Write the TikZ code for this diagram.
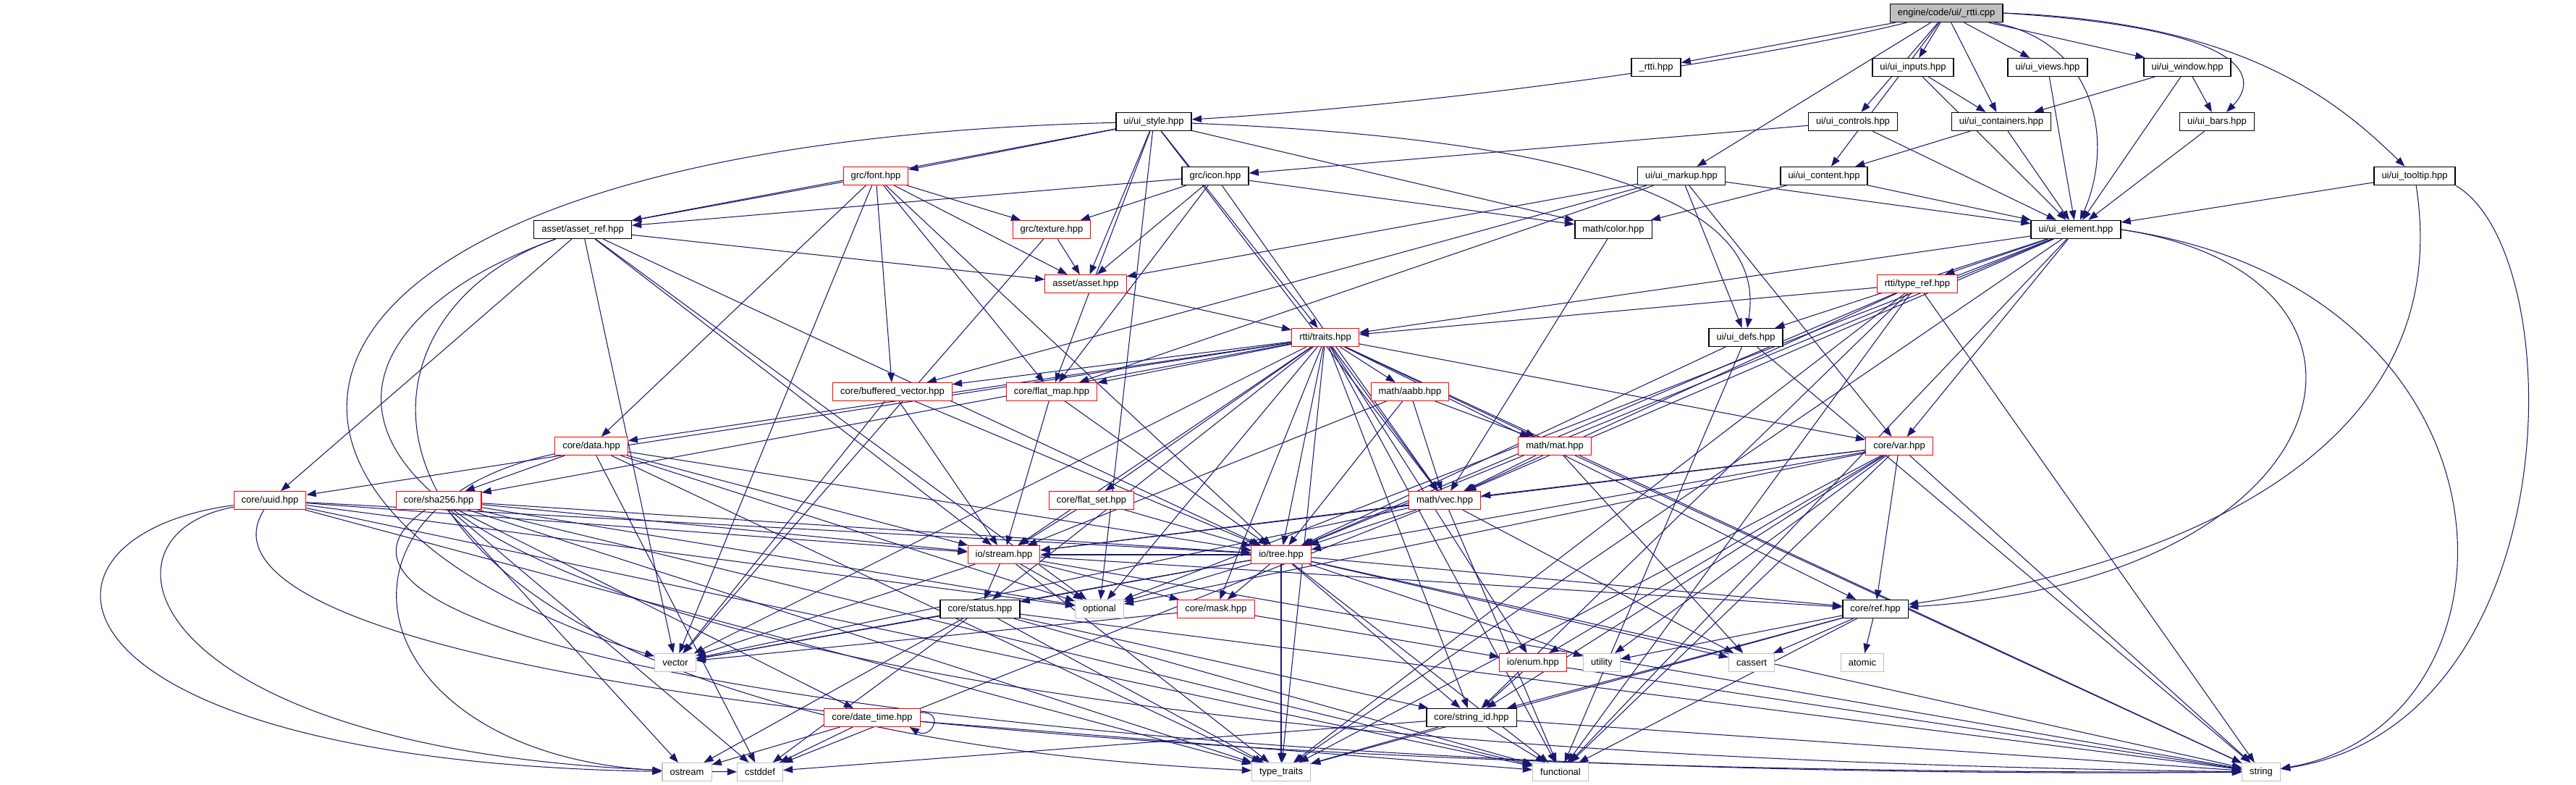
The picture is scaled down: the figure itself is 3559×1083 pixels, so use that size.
\documentclass[tikz,border=0pt]{standalone}
\usepackage{fontspec}
\setmainfont{Liberation Sans}
\usetikzlibrary{arrows.meta}
\definecolor{depblue}{HTML}{191970}
\definecolor{sysgray}{HTML}{BFBFBF}
\colorlet{hdrred}{red}
\pgfdeclarelayer{edges}
\pgfsetlayers{edges,main}

\begin{document}
\begin{tikzpicture}[x=0.02cm,y=-0.02cm,>={Triangle[length=7.5pt,width=5.5pt]},
  box/.style={draw,fill=white,line width=0.6pt,inner xsep=6pt,inner ysep=0pt,
    minimum height=0.5cm,font=\fontsize{7.4}{9}\selectfont},
  hdr/.style={box,draw=black,line width=0.8pt},
  redhdr/.style={box,draw=hdrred},
  syshdr/.style={box,draw=sysgray},
  srcfile/.style={box,draw=black,fill=sysgray,line width=0.8pt},
  dep/.style={->,depblue,line width=0.6pt}]
\useasboundingbox (0,0) rectangle (3559,1083);

% rank 0-2: the file and the ui headers
\node[srcfile] (engine) at (2689,18) {engine/code/ui/\_rtti.cpp};
\node[hdr] (rttih) at (2288,93) {\_rtti.hpp};
\node[hdr] (inputs) at (2643,93) {ui/ui\_inputs.hpp};
\node[hdr] (views) at (2829,93) {ui/ui\_views.hpp};
\node[hdr] (window) at (3022,93) {ui/ui\_window.hpp};
\node[hdr] (style) at (1594,168) {ui/ui\_style.hpp};
\node[hdr] (controls) at (2560,168) {ui/ui\_controls.hpp};
\node[hdr] (containers) at (2765,168) {ui/ui\_containers.hpp};
\node[hdr] (bars) at (3063,168) {ui/ui\_bars.hpp};
% rank 3-6
\node[redhdr] (font) at (1210,243) {grc/font.hpp};
\node[hdr] (icon) at (1679,243) {grc/icon.hpp};
\node[hdr] (markup) at (2323,243) {ui/ui\_markup.hpp};
\node[hdr] (content) at (2520,243) {ui/ui\_content.hpp};
\node[hdr] (tooltip) at (3336,243) {ui/ui\_tooltip.hpp};
\node[hdr] (assetref) at (805,317) {asset/asset\_ref.hpp};
\node[redhdr] (texture) at (1453,317) {grc/texture.hpp};
\node[hdr] (color) at (2229,317) {math/color.hpp};
\node[hdr] (element) at (2868,317) {ui/ui\_element.hpp};
\node[redhdr] (asset) at (1500,392) {asset/asset.hpp};
\node[redhdr] (typeref) at (2649,392) {rtti/type\_ref.hpp};
\node[redhdr] (traits) at (1831,466) {rtti/traits.hpp};
\node[hdr] (defs) at (2412,466) {ui/ui\_defs.hpp};
% rank 7-10
\node[redhdr] (bufvec) at (1233,541) {core/buffered\_vector.hpp};
\node[redhdr] (flatmap) at (1453,541) {core/flat\_map.hpp};
\node[redhdr] (aabb) at (1948,541) {math/aabb.hpp};
\node[redhdr] (data) at (817,616) {core/data.hpp};
\node[redhdr] (mat) at (2148,616) {math/mat.hpp};
\node[redhdr] (var) at (2624,616) {core/var.hpp};
\node[redhdr] (uuid) at (373,691) {core/uuid.hpp};
\node[redhdr] (sha) at (606,691) {core/sha256.hpp};
\node[redhdr] (flatset) at (1508,691) {core/flat\_set.hpp};
\node[redhdr] (vec) at (1996,691) {math/vec.hpp};
\node[redhdr] (stream) at (1387,766) {io/stream.hpp};
\node[redhdr] (tree) at (1770,766) {io/tree.hpp};
% rank 11-14
\node[hdr] (status) at (1354,841) {core/status.hpp};
\node[syshdr] (optional) at (1519,841) {optional};
\node[redhdr] (mask) at (1680,841) {core/mask.hpp};
\node[hdr] (ref) at (2591,841) {core/ref.hpp};
\node[syshdr] (vector) at (933,915) {vector};
\node[redhdr] (enum) at (2118,915) {io/enum.hpp};
\node[syshdr] (utility) at (2213,915) {utility};
\node[syshdr] (cassert) at (2420,915) {cassert};
\node[syshdr] (atomic) at (2573,915) {atomic};
\node[redhdr] (datetime) at (1205,991) {core/date\_time.hpp};
\node[hdr] (strid) at (2033,991) {core/string\_id.hpp};
\node[syshdr] (ostream) at (949,1066) {ostream};
\node[syshdr] (cstddef) at (1050,1066) {cstddef};
\node[syshdr] (typetraits) at (1770,1066) {type\_traits};
\node[syshdr] (functional) at (2156,1066) {functional};
\node[syshdr] (string) at (3124,1066) {string};

\begin{pgfonlayer}{edges}
% ui headers
\foreach \dst in {rttih,inputs,views,window,controls,containers,markup,content}
  \draw[dep] (engine) -- (\dst);
\draw[dep] (engine) .. controls (2350,100) and (1900,150) .. (style);
\draw[dep] (engine) .. controls (2900,60) and (2920,200) .. (element);
\draw[dep] (engine.east) .. controls (3120,40) and (3120,110) .. (bars);
\draw[dep] (engine.east) .. controls (3100,30) and (3230,140) .. (tooltip);
\foreach \dst in {containers,element} \draw[dep] (inputs) -- (\dst);
\draw[dep] (views) -- (element);
\foreach \dst in {containers,bars,element} \draw[dep] (window) -- (\dst);
\draw[dep] (bars) -- (element);
\foreach \dst in {content,element} \draw[dep] (containers) -- (\dst);
\foreach \dst in {icon,element} \draw[dep] (controls) -- (\dst);
\foreach \dst in {color,element} \draw[dep] (content) -- (\dst);
\foreach \dst in {element,asset,flatmap,bufvec,defs,var} \draw[dep] (markup) -- (\dst);
\draw[dep] (tooltip) -- (element);
\draw[dep] (tooltip) .. controls (3400,650) and (2950,790) .. (ref);
\draw[dep] (tooltip.south east) .. controls (3553,350) and (3553,1000) .. (string);
% style, font, icon, asset
\foreach \dst in {font,assetref,asset,flatmap,traits,color,vec,optional}
  \draw[dep] (style) -- (\dst);
\draw[dep] (style) .. controls (2390,200) and (2430,350) .. (defs);
\draw[dep] (style) .. controls (300,200) and (235,700) .. (vector);
\foreach \dst in {assetref,texture,asset,bufvec,flatmap,data,tree,vector}
  \draw[dep] (font) -- (\dst);
\foreach \dst in {assetref,texture,asset,flatmap,color,vec}
  \draw[dep] (icon) -- (\dst);
\foreach \dst in {asset,uuid,stream,tree,optional,vector}
  \draw[dep] (assetref) -- (\dst);
\draw[dep] (assetref) .. controls (425,450) and (425,1000) .. (typetraits);
\draw[dep] (assetref) .. controls (286,500) and (286,1030) .. (string);
\foreach \dst in {asset,vector} \draw[dep] (texture) -- (\dst);
\draw[dep] (asset) -- (traits);
\draw[dep] (color) -- (vec);
% ui element and rtti
\foreach \dst in {typeref,traits,defs,functional,typetraits,var,vec,tree,optional}
  \draw[dep] (element) -- (\dst);
\draw[dep] (element.east) .. controls (3350,380) and (3250,800) .. (ref);
\draw[dep] (element.east) .. controls (3504,400) and (3504,1000) .. (string);
\foreach \dst in {traits,vec,tree,strid,typetraits,functional,string}
  \draw[dep] (typeref) -- (\dst);
\foreach \dst in {tree,string,functional} \draw[dep] (defs) -- (\dst);
\foreach \dst in {bufvec,flatmap,aabb,mat,vec,var,data,uuid,sha,flatset,stream,tree,
    status,optional,mask,ref,vector,enum,typetraits,functional,string,strid}
  \draw[dep] (traits) -- (\dst);
% core, math and io
\foreach \dst in {vec,mat,stream,tree} \draw[dep] (aabb) -- (\dst);
\foreach \dst in {vec,cassert,string} \draw[dep] (mat) -- (\dst);
\foreach \dst in {vec,stream,tree,ref,enum,strid,functional,typetraits,string,optional,utility}
  \draw[dep] (var) -- (\dst);
\foreach \dst in {stream,tree,cassert,functional,vector,cstddef} \draw[dep] (vec) -- (\dst);
\foreach \dst in {sha,stream,tree,optional,cstddef,typetraits} \draw[dep] (data) -- (\dst);
\draw[dep] (data) .. controls (420,700) and (500,1040) .. (ostream);
\foreach \dst in {stream,tree,optional,functional,typetraits} \draw[dep] (uuid) -- (\dst);
\draw[dep] (uuid) .. controls (5,740) and (40,1050) .. (ostream);
\draw[dep] (uuid) .. controls (105,740) and (200,1060) .. (cstddef);
\draw[dep] (uuid) .. controls (240,900) and (1200,1070) .. (string);
\foreach \dst in {stream,tree,datetime,ostream,cstddef,functional,typetraits,optional}
  \draw[dep] (sha) -- (\dst);
\draw[dep] (sha) .. controls (310,900) and (1500,1080) .. (string);
\foreach \dst in {stream,tree} \draw[dep] (flatset) -- (\dst);
\foreach \dst in {stream,tree,vector} \draw[dep] (bufvec) -- (\dst);
\foreach \dst in {stream,tree} \draw[dep] (flatmap) -- (\dst);
\foreach \dst in {stream,status,optional,mask,ref,vector,cassert,utility,typetraits,strid,string,functional}
  \draw[dep] (tree) -- (\dst);
\foreach \dst in {status,optional,mask,ref,vector,string,typetraits}
  \draw[dep] (stream) -- (\dst);
\foreach \dst in {vector,ostream,cstddef,typetraits,string,functional,strid}
  \draw[dep] (status) -- (\dst);
\foreach \dst in {vector,enum} \draw[dep] (mask) -- (\dst);
\foreach \dst in {cassert,utility,atomic,strid,functional,typetraits} \draw[dep] (ref) -- (\dst);
\foreach \dst in {strid,string} \draw[dep] (enum) -- (\dst);
\foreach \dst in {ostream,cstddef,functional} \draw[dep] (datetime) -- (\dst);
\draw[dep] ([shift={(0,-7)}]datetime.east) .. controls +(35,-2) and +(30,18) .. ([shift={(-15,0)}]datetime.south east);
\foreach \dst in {cstddef,typetraits,functional,string} \draw[dep] (strid) -- (\dst);
\end{pgfonlayer}
\end{tikzpicture}
\end{document}
